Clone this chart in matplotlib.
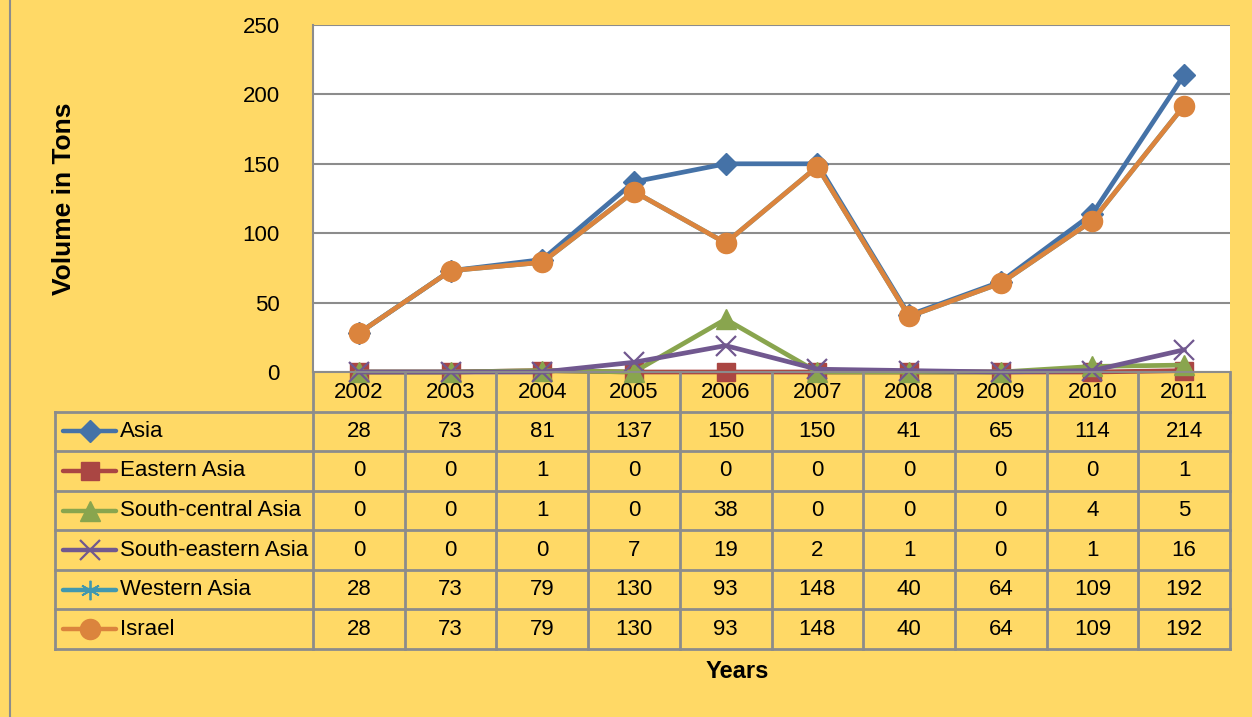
import matplotlib.pyplot as plt
import numpy as np

years = ["2002", "2003", "2004", "2005", "2006", "2007", "2008", "2009", "2010", "2011"]
asia = [28, 73, 81, 137, 150, 150, 41, 65, 114, 214]
eastern_asia = [0, 0, 1, 0, 0, 0, 0, 0, 0, 1]
south_central_asia = [0, 0, 1, 0, 38, 0, 0, 0, 4, 5]
south_eastern_asia = [0, 0, 0, 7, 19, 2, 1, 0, 1, 16]
western_asia = [28, 73, 79, 130, 93, 148, 40, 64, 109, 192]
israel = [28, 73, 79, 130, 93, 148, 40, 64, 109, 192]

series = [
    ("Asia", asia, "#4572A7", dict(marker="D", ms=11)),
    ("Eastern Asia", eastern_asia, "#AA4643", dict(marker="s", ms=13)),
    ("South-central Asia", south_central_asia, "#89A54E", dict(marker="^", ms=15)),
    ("South-eastern Asia", south_eastern_asia, "#71588F", dict(marker="x", ms=14, mew=1.6)),
    ("Western Asia", western_asia, "#4198AF", dict(marker=(6, 2, 0), ms=14, mew=1.3)),
    ("Israel", israel, "#DB843D", dict(marker="o", ms=14.5)),
]

W, H = 1252, 717
bg = "#FFD966"
grid = "#8C8C8C"
plt.rcParams["font.family"] = ["Liberation Sans", "DejaVu Sans"]
fs = 16

fig = plt.figure(figsize=(W / 100, H / 100), dpi=100, facecolor=bg)

# plot area in pixels
L, R, T, B = 313, 1230, 25, 372
ax = fig.add_axes([L / W, 1 - B / H, (R - L) / W, (B - T) / H])
ax.set_facecolor("white")
x = np.arange(len(years))
for name, vals, col, mk in series:
    ax.plot(x, vals, color=col, lw=3.4, mec=col, mfc=col, label=name, clip_on=False, **mk)
ax.set_xlim(-0.5, len(years) - 0.5)
ax.set_ylim(0, 250)
ax.set_yticks(range(0, 251, 50))
ax.set_xticks([])
ax.yaxis.grid(True, color=grid, lw=1.5)
ax.set_axisbelow(True)
ax.tick_params(axis="y", length=0, pad=24, labelsize=fs)
for s in ["right", "top"]:
    ax.spines[s].set_visible(False)
for s in ["left", "bottom"]:
    ax.spines[s].set_color(grid)
    ax.spines[s].set_linewidth(1.5)
ax.set_ylabel("Volume in Tons", fontsize=19, fontweight="bold")
ax.yaxis.set_label_coords((76 - L) / (R - L), 0.5)

# data table
TB = 649
tax = fig.add_axes([L / W, 1 - TB / H, (R - L) / W, (TB - B) / H])
tax.set_xlim(-0.5, len(years) - 0.5)
tax.set_ylim(0, 7)
tax.axis("off")
colw = (R - L) / len(years)
px = lambda p: -0.5 + (p - L) / colw
xl = px(55)
lc = dict(color=grid, lw=2, clip_on=False)
for k in range(len(years) + 1):
    tax.plot([k - 0.5, k - 0.5], [0, 7], **lc)
tax.plot([xl, xl], [0, 6], **lc)
for r in range(7):
    tax.plot([xl, len(years) - 0.5], [r, r], **lc)
for i, yr in enumerate(years):
    tax.text(i, 6.48, yr, ha="center", va="center", fontsize=fs)
for j, (name, vals, col, mk) in enumerate(series):
    yc = 5.5 - j
    tax.plot([px(63), px(116)], [yc, yc], color=col, lw=3.2, solid_capstyle="round", clip_on=False)
    tax.plot([px(89.5)], [yc], color=col, mec=col, mfc=col, clip_on=False, **mk)
    tax.text(px(120), yc, name, ha="left", va="center", fontsize=fs)
    for i, v in enumerate(vals):
        tax.text(i, yc, str(v), ha="center", va="center", fontsize=fs)

fig.text(737 / W, 1 - 672 / H, "Years", ha="center", va="center", fontsize=17,
         fontweight="bold")
fig.add_artist(plt.Line2D([10 / W, 10 / W], [0, 1], color=grid, lw=1.5))

fig.savefig("out.png", dpi=100, facecolor=bg)
